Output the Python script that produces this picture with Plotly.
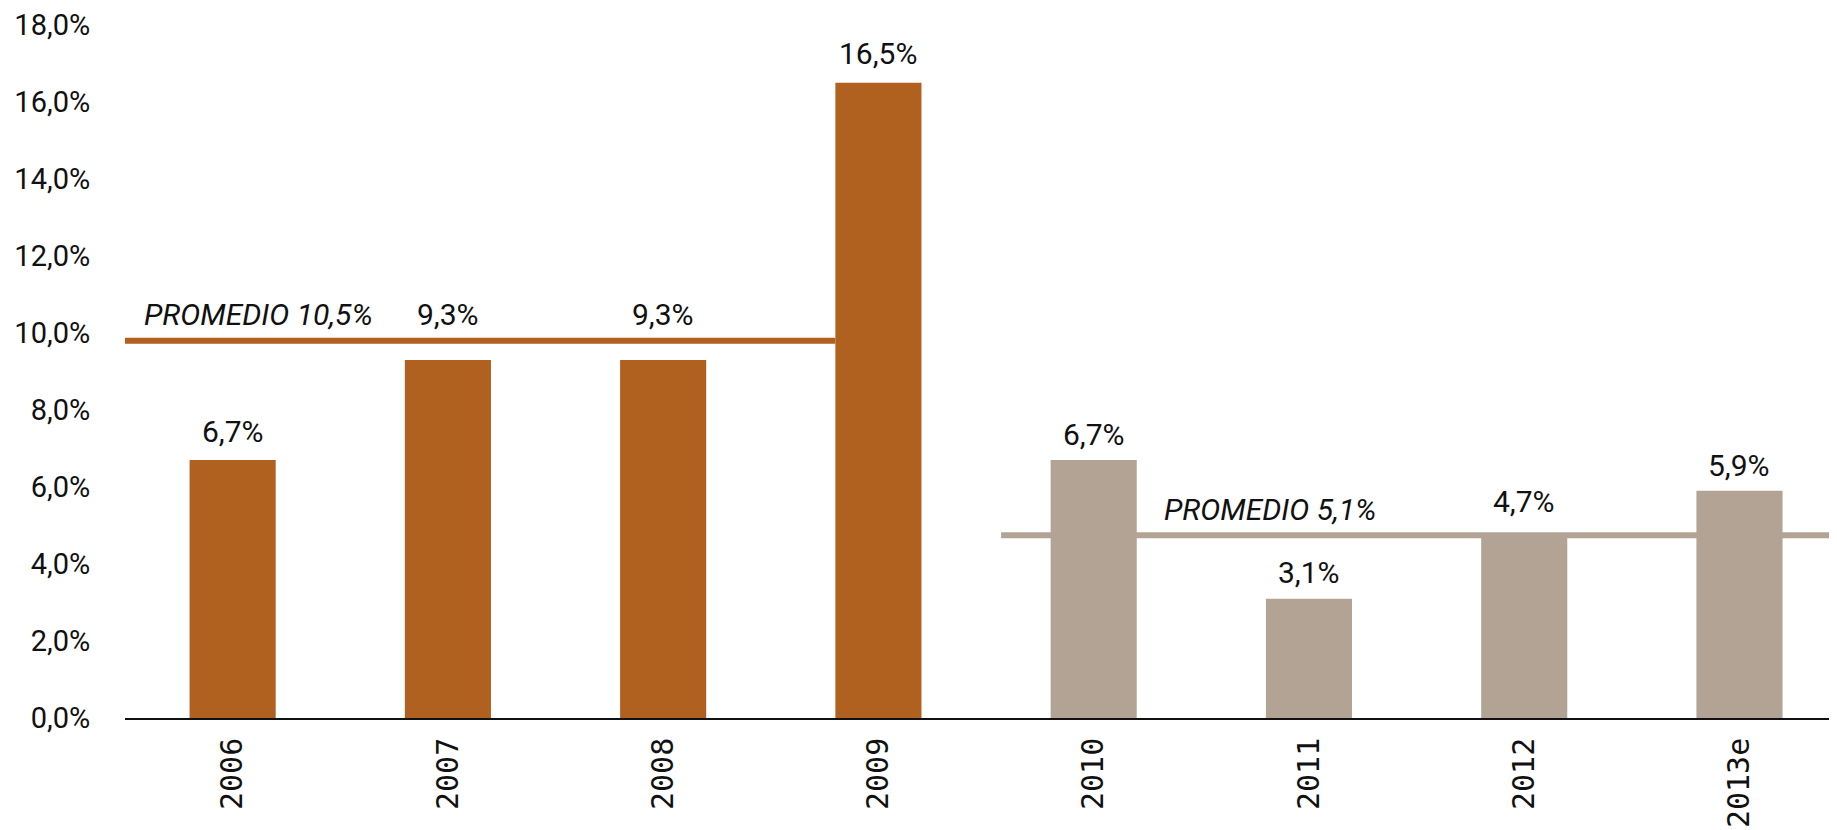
import plotly.graph_objects as go

years = ["2006", "2007", "2008", "2009", "2010", "2011", "2012", "2013e"]
values = [6.7, 9.3, 9.3, 16.5, 6.7, 3.1, 4.7, 5.9]
value_labels = ["6,7%", "9,3%", "9,3%", "16,5%", "6,7%", "3,1%", "4,7%", "5,9%"]
period = ["a", "a", "a", "a", "b", "b", "b", "b"]

avg1_label = "PROMEDIO 10,5%"
avg2_label = "PROMEDIO 5,1%"
avg1_level = 9.8   # drawn level
avg2_level = 4.75
avg1_x = [-0.5, 2.8]
avg2_x = [3.57, 7.46]

ytick_vals = [0, 2, 4, 6, 8, 10, 12, 14, 16, 18]
ytick_text = ["0,0%", "2,0%", "4,0%", "6,0%", "8,0%", "10,0%", "12,0%", "14,0%", "16,0%", "18,0%"]

# style: vertical pixel offsets of the value labels above their bars
label_yshift = [9, 26, 26, 10, 6, 7, 16, 6]

ORANGE = "#B06120"
GRAY = "#B3A394"
colors = {"a": ORANGE, "b": GRAY}
SANS = "Roboto, Liberation Sans, sans-serif"

x = list(range(len(years)))
fig = go.Figure()
fig.add_trace(go.Bar(x=x, y=values, width=0.4,
                     marker=dict(color=[colors[p] for p in period], line=dict(width=0)),
                     hoverinfo="skip"))
fig.add_trace(go.Scatter(x=avg1_x, y=[avg1_level] * 2, mode="lines",
                         line=dict(color=ORANGE, width=6), hoverinfo="skip"))
fig.add_trace(go.Scatter(x=avg2_x, y=[avg2_level] * 2, mode="lines",
                         line=dict(color=GRAY, width=6), hoverinfo="skip"))

VAL_FONT = dict(family=SANS, size=30, color="#111111")
for i, (v, t, dy) in enumerate(zip(values, value_labels, label_yshift)):
    fig.add_annotation(x=i, y=v, text=t, showarrow=False, yanchor="bottom",
                       yshift=dy, font=VAL_FONT)

IT_FONT = dict(family=SANS, size=30, color="#111111")
fig.add_annotation(x=-0.42, y=10.49, text="<i>" + avg1_label + "</i>", showarrow=False,
                   xanchor="left", yanchor="middle", font=IT_FONT)
fig.add_annotation(x=4.316, y=5.42, text="<i>" + avg2_label + "</i>", showarrow=False,
                   xanchor="left", yanchor="middle", font=IT_FONT)

fig.update_layout(
    width=1829, height=822,
    margin=dict(l=117, r=0, t=2, b=112),
    plot_bgcolor="white", paper_bgcolor="white",
    showlegend=False, separators=",.",
)
fig.update_xaxes(range=[-0.5, 7.453], tickmode="array", tickvals=x, ticktext=years,
                 tickangle=-90, showgrid=False, zeroline=False, automargin=False,
                 showline=True, linecolor="#111111", linewidth=1.5,
                 ticks="outside", ticklen=6, tickcolor="rgba(0,0,0,0)",
                 tickfont=dict(family="DejaVu Sans Mono, monospace", size=30, color="#111111"))
fig.update_yaxes(range=[0, 18.39], tickmode="array", tickvals=ytick_vals, ticktext=ytick_text,
                 showgrid=False, zeroline=False, automargin=False,
                 showline=False, ticks="outside", ticklen=28, tickcolor="rgba(0,0,0,0)",
                 tickfont=dict(family=SANS, size=29, color="#111111"))

fig.write_html("out.html")
